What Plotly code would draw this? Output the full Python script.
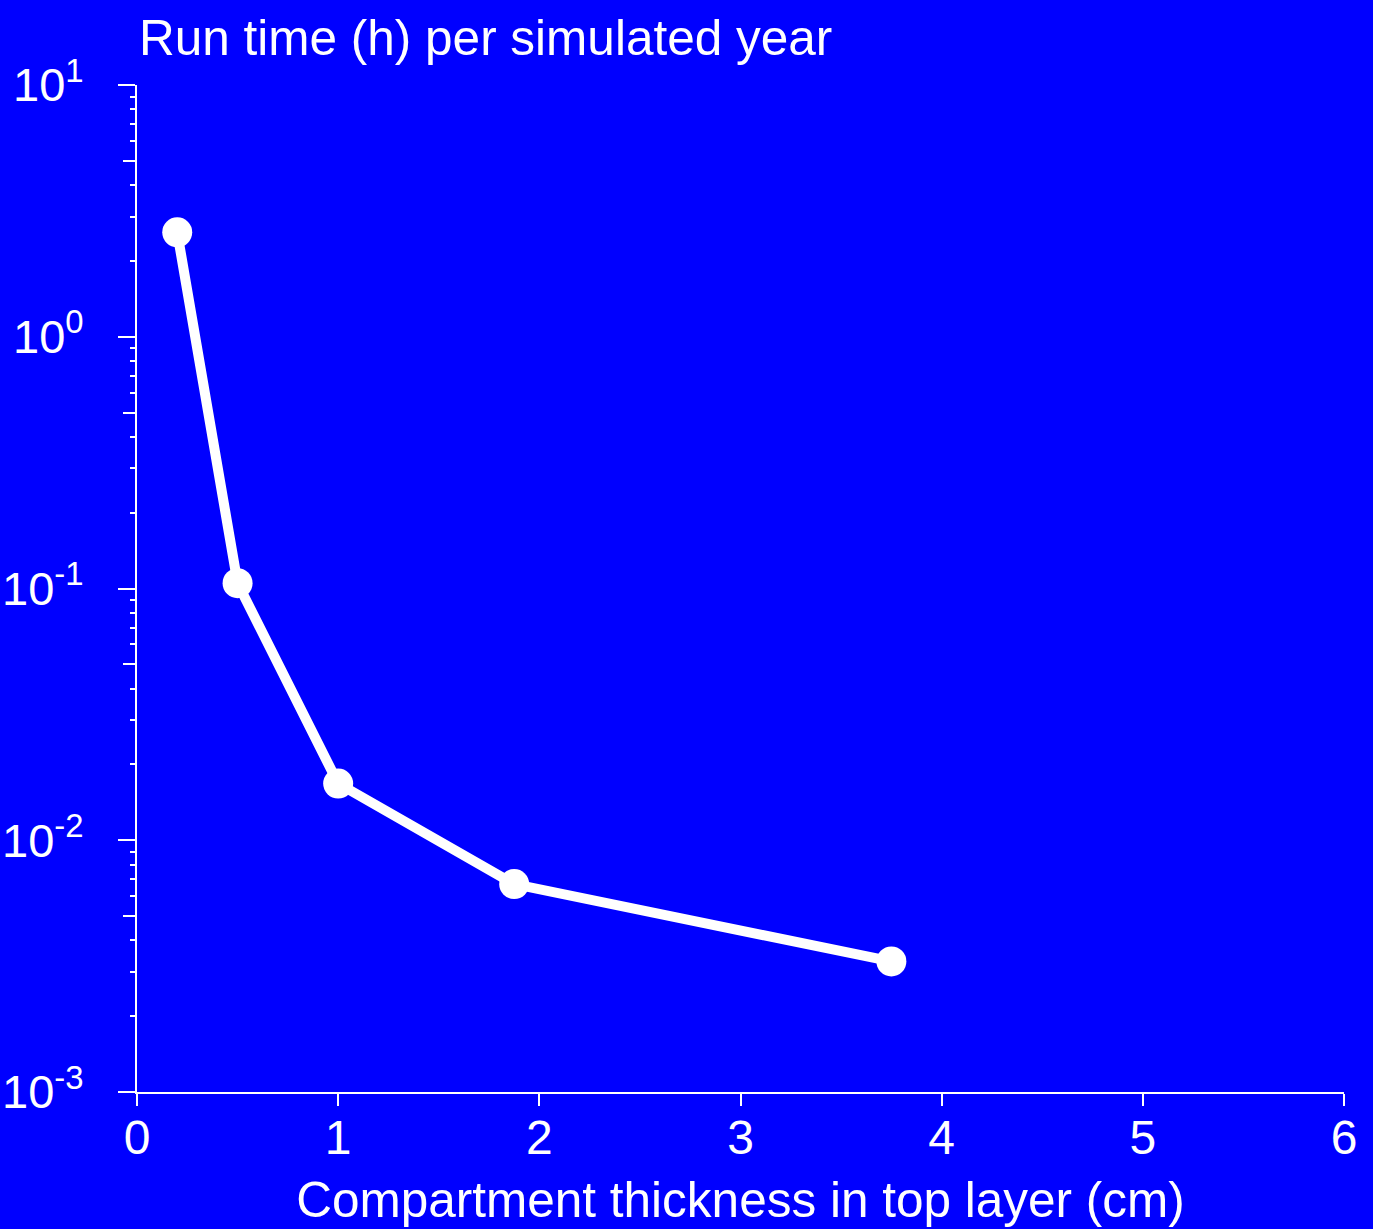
import plotly.graph_objects as go

# Data
thickness_cm = [0.2, 0.5, 1.0, 1.875, 3.75]
run_time_h = [2.6, 0.105, 0.0168, 0.0067, 0.0033]

x_ticks = [0, 1, 2, 3, 4, 5, 6]
y_ticks = [0.001, 0.01, 0.1, 1, 10]
y_ticktext = ["10<sup>-3</sup>", "10<sup>-2</sup>", "10<sup>-1</sup>", "10<sup>0</sup>", "10<sup>1</sup>"]

title_text = "Run time (h) per simulated year"
x_title = "Compartment thickness in top layer (cm)"

BG = "#0000FF"
FG = "#FFFFFF"
FONT = "Liberation Sans, Arial, sans-serif"

minor_vals = [m * 10 ** e for e in range(-3, 1) for m in range(2, 10)]
mid_vals = [5 * 10 ** e for e in range(-3, 1)]

fig = go.Figure()
fig.add_trace(go.Scatter(
    x=thickness_cm, y=run_time_h, mode="lines+markers",
    line=dict(color=FG, width=10),
    marker=dict(color=FG, size=30, symbol="circle", line=dict(width=0)),
    showlegend=False, hoverinfo="skip",
))
# invisible helper trace so the medium-tick axis is drawn
fig.add_trace(go.Scatter(
    x=thickness_cm, y=run_time_h, yaxis="y2", mode="markers",
    marker=dict(opacity=0, size=1), showlegend=False, hoverinfo="skip",
))

fig.update_layout(
    template="none",
    width=1373, height=1229, autosize=False,
    margin=dict(l=137, r=29, t=85, b=137, pad=0),
    paper_bgcolor=BG, plot_bgcolor=BG,
    font=dict(family=FONT, color=FG, size=48),
    xaxis=dict(
        range=[0, 6], tickmode="array", tickvals=x_ticks, automargin=False,
        ticks="outside", ticklen=12, tickwidth=2, tickcolor=FG,
        showline=True, linewidth=2, linecolor=FG,
        showgrid=False, zeroline=False,
        tickfont=dict(size=48, color=FG, family=FONT),
        ticklabelstandoff=-10,
        title=dict(text=x_title, font=dict(size=49.5, color=FG, family=FONT), standoff=20),
    ),
    yaxis=dict(
        type="log", range=[-3, 1], tickmode="array", tickvals=y_ticks, ticktext=y_ticktext,
        automargin=False,
        ticks="outside", ticklen=17, tickwidth=2, tickcolor=FG,
        showline=True, linewidth=2, linecolor=FG,
        showgrid=False, zeroline=False,
        tickfont=dict(size=47, color=FG, family=FONT),
        ticklabelstandoff=25,
        minor=dict(tickmode="array", tickvals=minor_vals, ticks="outside",
                   ticklen=5, tickwidth=2, tickcolor=FG, showgrid=False),
    ),
    yaxis2=dict(
        type="log", range=[-3, 1], overlaying="y", side="left", anchor="x",
        automargin=False,
        tickmode="array", tickvals=mid_vals, ticks="outside", ticklen=13,
        tickwidth=2, tickcolor=FG, showticklabels=False, showline=False,
        showgrid=False, zeroline=False,
    ),
    annotations=[dict(
        text=title_text, xref="paper", yref="paper", x=0, y=1,
        xanchor="left", yanchor="bottom", yshift=18, showarrow=False,
        font=dict(size=49.5, color=FG, family=FONT),
    )],
)

fig.write_html("out.html")
